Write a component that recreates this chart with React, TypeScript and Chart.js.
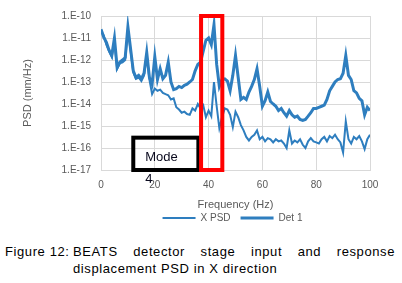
import React, { useEffect, useRef } from "react";
import { Chart, registerables } from "chart.js";

Chart.register(...registerables);

const freqHz = [
  0, 1, 2, 3, 4, 5, 6, 7, 8, 9, 10, 11, 12, 13, 14, 15, 16, 17, 18, 19, 20,
  21, 22, 23, 24, 25, 26, 27, 28, 29, 30, 31, 32, 33, 34, 35, 36, 37, 38, 39, 40,
  41, 42, 43, 44, 45, 46, 47, 48, 49, 50, 51, 52, 53, 54, 55, 56, 57, 58, 59, 60,
  61, 62, 63, 64, 65, 66, 67, 68, 69, 70, 71, 72, 73, 74, 75, 76, 77, 78, 79, 80,
  81, 82, 83, 84, 85, 86, 87, 88, 89, 90, 91, 92, 93, 94, 95, 96, 97, 98, 99, 100,
];

const xPsd = [
  2.0e-11, 1.3e-11, 5.0e-12, 2.5e-12, 1.4e-12, 6.3e-12, 4.0e-13, 7.1e-13, 7.9e-13, 1.0e-12,
  2.5e-11, 2.5e-12, 2.8e-13, 1.4e-13, 1.6e-13, 1.1e-13, 2.0e-13, 1.6e-12, 1.3e-13, 2.8e-14,
  5.0e-14, 4.0e-14, 4.5e-14, 3.2e-14, 2.8e-14, 2.5e-14, 1.6e-14, 1.8e-14, 7.1e-15, 5.6e-15,
  4.0e-15, 4.5e-15, 3.5e-15, 3.2e-15, 6.3e-15, 5.0e-15, 1.0e-14, 6.3e-15, 8.9e-15, 2.5e-15,
  5.0e-15, 2.8e-15, 1.0e-13, 7.9e-15, 7.9e-16, 2.5e-15, 6.3e-15, 5.6e-15, 3.2e-15, 8.9e-16,
  4.5e-15, 2.5e-15, 1.1e-15, 6.3e-16, 3.2e-16, 2.2e-16, 3.2e-16, 4.0e-16, 6.3e-16, 2.5e-16,
  3.2e-16, 2.0e-16, 2.8e-16, 2.5e-16, 1.8e-16, 2.5e-16, 2.0e-16, 2.2e-16, 1.6e-16, 1.0e-16,
  6.3e-16, 1.6e-16, 2.2e-16, 1.8e-16, 2.5e-16, 1.4e-16, 1.0e-16, 2.0e-16, 2.8e-16, 2.0e-16,
  1.8e-16, 1.6e-16, 2.5e-16, 3.2e-16, 2.0e-16, 3.5e-16, 2.8e-16, 4.0e-16, 2.5e-16, 1.8e-16,
  6.3e-17, 1.6e-15, 2.5e-16, 1.6e-16, 3.2e-16, 2.5e-16, 3.5e-16, 2.0e-16, 8.9e-17, 2.5e-16,
  4.0e-16,
];

const det1 = [
  2.5e-11, 1.1e-11, 6.3e-12, 2.8e-12, 1.6e-12, 1.0e-11, 4.5e-13, 7.9e-13, 1.0e-12, 1.3e-12,
  3.2e-11, 3.2e-12, 3.2e-13, 1.6e-13, 2.0e-13, 1.4e-13, 2.5e-13, 2.2e-12, 1.6e-13, 7.9e-14,
  1.4e-12, 1.3e-13, 4.0e-13, 1.4e-13, 2.0e-13, 7.9e-13, 1.0e-13, 4.5e-14, 5.0e-14, 6.3e-14,
  5.6e-14, 7.1e-14, 7.9e-14, 1.0e-13, 1.3e-13, 3.2e-13, 6.3e-13, 7.9e-13, 2.5e-12, 7.9e-12,
  1.0e-11, 5.0e-12, 4.0e-11, 6.3e-13, 6.3e-14, 1.3e-13, 1.4e-13, 1.1e-13, 4.0e-14, 2.0e-13,
  1.6e-12, 1.6e-13, 1.6e-14, 2.0e-14, 1.6e-14, 3.5e-14, 6.3e-14, 1.3e-13, 4.0e-13, 6.3e-14,
  7.9e-15, 1.4e-14, 3.5e-14, 1.3e-14, 1.0e-14, 7.9e-15, 5.0e-15, 6.3e-15, 4.0e-15, 2.8e-15,
  5.0e-15, 3.2e-15, 2.5e-15, 2.8e-15, 2.0e-15, 1.8e-15, 2.0e-15, 2.8e-15, 4.0e-15, 6.3e-15,
  6.3e-15, 7.1e-15, 7.9e-15, 8.9e-15, 1.6e-14, 4.0e-14, 6.3e-14, 1.0e-13, 1.3e-13, 1.4e-13,
  2.5e-13, 1.6e-12, 2.0e-13, 1.3e-13, 4.0e-14, 3.2e-14, 1.8e-14, 1.4e-14, 3.2e-15, 7.1e-15,
  5.0e-15,
];

const seriesNames = ["X PSD", "Det 1"];
const yTickValues = [1e-17, 1e-16, 1e-15, 1e-14, 1e-13, 1e-12, 1e-11, 1e-10];
const yTickLabels = ["1.E-17", "1.E-16", "1.E-15", "1.E-14", "1.E-13", "1.E-12", "1.E-11", "1.E-10"];
const xTickStep = 20;
const xTitle = "Frequency (Hz)";
const yTitle = "PSD (mm/Hz)";

// annotation boxes (data coordinates)
const mode4Highlight = { xMin: 37.2, xMax: 45.1, yMin: 1e-17, yMax: 1e-10 };
const modeLabelBox = { xMin: 12, xMax: 36.2, yMin: 1e-17, yMax: 2.95e-16 };
const modeLabelLines = ["Mode", "4"];

const captionLabel = "Figure 12:";
const captionLine1 = "BEATS detector stage input and response";
const captionLine2 = "displacement PSD in X direction";

const FONT = "'Liberation Sans', Arial, sans-serif";
const TEXT = "#595959";
const GRID = "#d9d9d9";
const BLUE = "#2e7ebf";

const boxesPlugin = {
  id: "boxes",
  afterUpdate(chart: any) {
    // centre the legend under the plot area, as in the original
    const lg = chart.legend;
    const area = chart.chartArea;
    if (lg && area) {
      const dx = (area.left + area.right) / 2 - (lg.left + lg.right) / 2 - 3;
      lg.left += dx;
      lg.right += dx;
      if (lg.legendHitBoxes) lg.legendHitBoxes.forEach((h: any) => (h.left += dx));
    }
  },
  afterDraw(chart: any) {
    const { ctx, scales } = chart;
    const x = scales.x;
    const y = scales.y;
    ctx.save();
    const bl = x.getPixelForValue(modeLabelBox.xMin);
    const br = x.getPixelForValue(modeLabelBox.xMax);
    const bt = y.getPixelForValue(modeLabelBox.yMax);
    const bb = y.getPixelForValue(modeLabelBox.yMin);
    ctx.strokeStyle = "#000000";
    ctx.lineWidth = 4;
    ctx.strokeRect(bl, bt, br - bl, bb - bt);
    ctx.fillStyle = "#0a0a1e";
    ctx.font = `13px ${FONT}`;
    ctx.textBaseline = "alphabetic";
    ctx.textAlign = "left";
    ctx.fillText(modeLabelLines[0], bl + 12, bt + 23);
    ctx.fillText(modeLabelLines[1], bl + 12, bt + 45);
    const rl = x.getPixelForValue(mode4Highlight.xMin);
    const rr = x.getPixelForValue(mode4Highlight.xMax);
    const rt = y.getPixelForValue(mode4Highlight.yMax);
    const rb = y.getPixelForValue(mode4Highlight.yMin);
    ctx.strokeStyle = "#ff0000";
    ctx.lineWidth = 4;
    ctx.strokeRect(rl, rt, rr - rl, rb - rt);
    ctx.restore();
  },
};

function PsdChart() {
  const ref = useRef<HTMLCanvasElement | null>(null);
  useEffect(() => {
    if (!ref.current) return;
    const chart = new Chart(ref.current, {
      type: "line",
      data: {
        datasets: [
          {
            label: seriesNames[0],
            data: freqHz.map((f, i) => ({ x: f, y: xPsd[i] })),
            borderColor: BLUE,
            backgroundColor: BLUE,
            borderWidth: 2,
            pointRadius: 0,
            tension: 0,
          },
          {
            label: seriesNames[1],
            data: freqHz.map((f, i) => ({ x: f, y: det1[i] })),
            borderColor: BLUE,
            backgroundColor: BLUE,
            borderWidth: 3,
            pointRadius: 0,
            tension: 0,
          },
        ],
      },
      options: {
        responsive: false,
        animation: false,
        events: [],
        layout: { padding: { left: 17, right: 32, top: 13, bottom: 0 } },
        plugins: {
          legend: {
            position: "bottom",
            labels: {
              usePointStyle: true,
              pointStyle: "line",
              pointStyleWidth: 33,
              boxHeight: 10,
              color: TEXT,
              font: { size: 10, family: FONT },
              padding: 10,
            },
          },
          tooltip: { enabled: false },
        },
        scales: {
          x: {
            type: "linear",
            min: 0,
            max: 100,
            afterFit: (scale: any) => {
              scale.height = 33;
            },
            ticks: { stepSize: xTickStep, color: TEXT, font: { size: 10, family: FONT }, padding: 9 },
            grid: { color: GRID, drawTicks: false },
            border: { color: GRID },
            title: {
              display: true,
              text: xTitle,
              color: TEXT,
              font: { size: 11, family: FONT },
              padding: { top: 4, bottom: -8.6 },
            },
          },
          y: {
            type: "logarithmic",
            min: 1e-17,
            max: 1e-10,
            afterBuildTicks: (scale: any) => {
              scale.ticks = yTickValues.map((v) => ({ value: v }));
            },
            afterFit: (scale: any) => {
              scale.width = 84;
            },
            ticks: {
              color: TEXT,
              font: { size: 10, family: FONT },
              padding: 10,
              callback: (_v: any, i: number) => yTickLabels[i],
            },
            grid: { color: GRID, drawTicks: false },
            border: { color: GRID },
            title: {
              display: true,
              text: yTitle,
              color: TEXT,
              font: { size: 11, family: FONT },
              padding: { top: 4, bottom: 0 },
            },
          },
        },
      },
      plugins: [boxesPlugin],
    });
    return () => chart.destroy();
  }, []);
  return <canvas ref={ref} width={402} height={233} style={{ display: "block" }} />;
}

export default function App() {
  return (
    <div style={{ position: "absolute", left: 0, top: 0, width: 402, height: 283, background: "#fff", overflow: "hidden" }}>
      <PsdChart />
      <div
        style={{
          position: "absolute",
          left: 5,
          top: 244,
          display: "flex",
          fontFamily: FONT,
          fontSize: 13,
          letterSpacing: "0.6px",
          lineHeight: "16.7px",
          color: "#000",
        }}
      >
        <div style={{ width: 68, whiteSpace: "nowrap" }}>{captionLabel}</div>
        <div style={{ width: 322 }}>
          <div style={{ textAlign: "justify", textAlignLast: "justify" as any }}>{captionLine1}</div>
          <div style={{ textAlign: "left", whiteSpace: "nowrap" }}>{captionLine2}</div>
        </div>
      </div>
    </div>
  );
}
